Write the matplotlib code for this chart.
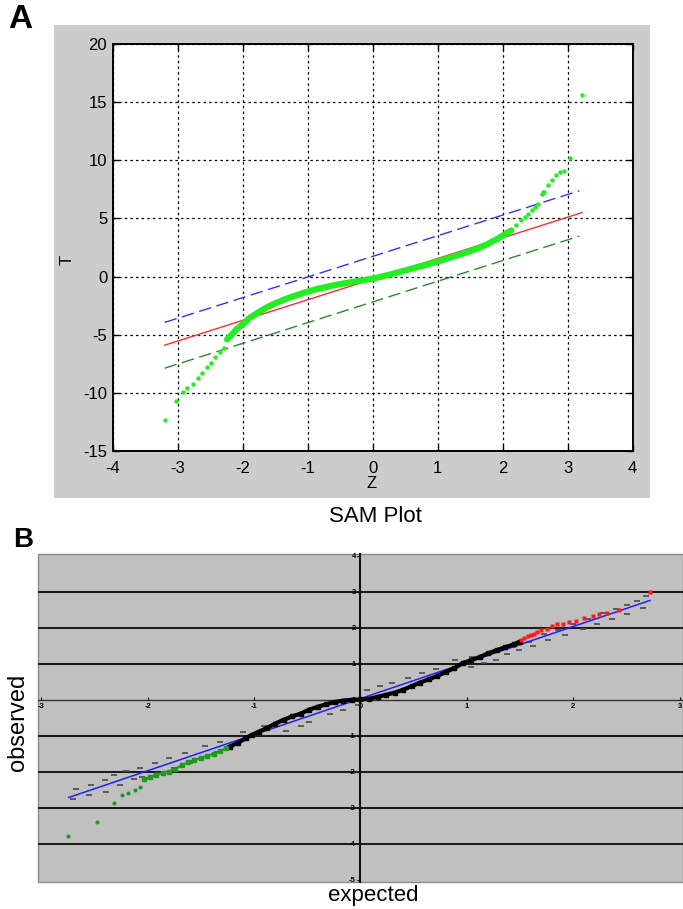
import matplotlib
matplotlib.use("Agg")
import matplotlib.pyplot as plt
from matplotlib.patches import Rectangle

plt.rcParams['font.family'] = ['Liberation Sans', 'DejaVu Sans']
plt.rcParams['axes.unicode_minus'] = False

# ---------------- Panel A data (SAM plot) ----------------
a_xticks = [-4, -3, -2, -1, 0, 1, 2, 3, 4]
a_yticks = [-15, -10, -5, 0, 5, 10, 15, 20]

# dense central band of observed points
sam_band_z = [-2.24, -2.16, -2.09, -2.0, -1.88, -1.75, -1.63, -1.5, -1.27, -1.05,
              -0.85, -0.6, -0.34, 0.0, 0.3, 0.535, 0.8, 1.05, 1.3, 1.56, 1.75,
              1.92, 2.05, 2.13]
sam_band_t = [-5.4, -4.95, -4.5, -4.1, -3.5, -3.05, -2.65, -2.3, -1.78, -1.38,
              -1.06, -0.75, -0.49, -0.18, 0.22, 0.58, 0.98, 1.38, 1.82, 2.3, 2.75,
              3.25, 3.7, 3.97]
# sparse tail points
sam_tail_z = [-3.19, -3.02, -2.92, -2.85, -2.76, -2.68, -2.62, -2.55, -2.48, -2.42,
              -2.35, -2.29, 2.20, 2.28, 2.34, 2.39, 2.45, 2.50, 2.54, 2.60, 2.62,
              2.64, 2.70, 2.76, 2.82, 2.88, 2.95, 3.03, 3.22]
sam_tail_t = [-12.3, -10.7, -9.9, -9.6, -9.25, -8.7, -8.3, -7.8, -7.4, -6.95,
              -6.5, -6.1, 4.4, 4.83, 5.1, 5.4, 5.7, 6.0, 6.27, 7.1, 7.27,
              7.3, 7.9, 8.3, 8.7, 9.0, 9.1, 10.2, 15.6]

red_z = [-3.2, 3.22]
red_t = [-5.9, 5.5]
blue_z = [-3.2, 3.18]
blue_t = [-3.94, 7.38]
dgreen_z = [-3.2, 3.18]
dgreen_t = [-7.88, 3.48]

# ---------------- Panel B data (observed vs expected) ----------------
b_xticks = [-3, -2, -1, 0, 1, 2, 3]
b_yticks = [-5, -4, -3, -2, -1, 0, 1, 2, 3, 4]
b_grid_y = [-4, -3, -2, -1, 1, 2, 3]

black_x = [-1.23, -1.15, -1.08, -1.02, -0.95, -0.88, -0.80, -0.72, -0.64, -0.56,
           -0.48, -0.40, -0.32, -0.24, -0.16, -0.08, 0.0, 0.08, 0.16, 0.24,
           0.32, 0.40, 0.48, 0.56, 0.64, 0.72, 0.80, 0.88, 0.96, 1.04,
           1.12, 1.20, 1.28, 1.36, 1.44, 1.50]
black_y = [-1.30, -1.19, -1.07, -0.97, -0.88, -0.78, -0.66, -0.55, -0.46, -0.38,
           -0.27, -0.19, -0.12, -0.06, -0.02, 0.00, 0.01, 0.03, 0.08, 0.14,
           0.20, 0.28, 0.38, 0.48, 0.57, 0.66, 0.77, 0.88, 1.02, 1.10,
           1.19, 1.29, 1.38, 1.46, 1.54, 1.62]

red_bx = [1.51, 1.54, 1.57, 1.60, 1.63, 1.66, 1.70, 1.75, 1.80, 1.85, 1.90, 1.96,
          2.02, 2.10, 2.18, 2.24, 2.32, 2.43, 2.72]
red_by = [1.67, 1.72, 1.76, 1.80, 1.84, 1.88, 1.93, 1.98, 2.05, 2.10, 2.12, 2.16,
          2.19, 2.26, 2.33, 2.38, 2.42, 2.50, 3.00]

green_bx = [-1.26, -1.32, -1.38, -1.44, -1.50, -1.56, -1.62, -1.68, -1.74, -1.80,
            -1.86, -1.92, -1.98, -2.03]
green_by = [-1.35, -1.42, -1.49, -1.56, -1.61, -1.67, -1.73, -1.82, -1.92, -1.99,
            -2.04, -2.08, -2.15, -2.20]
green_tail_x = [-2.07, -2.12, -2.18, -2.24, -2.32, -2.48, -2.745]
green_tail_y = [-2.42, -2.50, -2.59, -2.64, -2.87, -3.38, -3.77]

bline_x = [-2.74, 2.72]
bline_y = [-2.71, 2.76]

upper_x = [-2.67, -2.53, -2.40, -2.32, -2.20, -2.07, -1.93, -1.80, -1.65, -1.46,
           -1.32, -1.10, -0.91, 0.06, 0.18, 0.30, 0.45, 0.58, 0.71, 0.89, 1.05,
           1.23, 1.43, 1.58, 1.72, 1.86, 2.0, 2.14, 2.28, 2.40, 2.50, 2.60, 2.68]
upper_y = [-2.48, -2.36, -2.22, -2.08, -1.98, -1.90, -1.76, -1.62, -1.48, -1.28,
           -1.16, -0.88, -0.72, 0.28, 0.38, 0.48, 0.62, 0.74, 0.86, 1.10, 1.20,
           1.30, 1.48, 1.62, 1.82, 1.95, 2.10, 2.24, 2.40, 2.52, 2.62, 2.74, 2.87]
lower_x = [-2.70, -2.55, -2.39, -2.26, -2.13, -2.05, -1.90, -1.75, -1.60, -1.48,
           -1.35, -1.23, -0.70, -0.56, -0.48, -0.29, -0.16, -0.02, 1.04, 1.16,
           1.27, 1.38, 1.49, 1.62, 1.76, 1.92, 2.09, 2.22, 2.36, 2.50, 2.65]
lower_y = [-2.76, -2.65, -2.55, -2.36, -2.20, -2.13, -2.02, -1.90, -1.76, -1.58,
           -1.45, -1.34, -0.86, -0.72, -0.62, -0.40, -0.28, -0.15, 0.92, 1.02,
           1.12, 1.26, 1.38, 1.50, 1.66, 1.80, 1.98, 2.10, 2.24, 2.38, 2.55]

# ---------------- Figure ----------------
W, H = 683, 909
fig = plt.figure(figsize=(W / 100, H / 100), dpi=100)


def fx(px):
    return px / W


def fy(py):
    return 1 - py / H


# gray background of panel A
fig.patches.append(Rectangle((fx(54), fy(498)), fx(650) - fx(54), fy(25) - fy(498),
                             transform=fig.transFigure, facecolor='#cccccc',
                             edgecolor='none', zorder=-10))

axA = fig.add_axes([fx(112.7), fy(451), fx(632.7) - fx(112.7), fy(44) - fy(451)])
axA.set_zorder(2)
axA.set_facecolor('white')
axA.set_xlim(-4, 4)
axA.set_ylim(-15, 20)
axA.set_xticks(a_xticks)
axA.set_yticks(a_yticks)
axA.set_xticklabels([str(v) for v in a_xticks])
axA.set_yticklabels([str(v) for v in a_yticks])
axA.tick_params(direction='in', length=4, width=1, top=True, right=True,
                labelsize=12, colors='black')
axA.tick_params(axis='x', pad=7)
axA.tick_params(axis='y', pad=4)
axA.grid(True, color='black', linestyle=(0, (2, 2.5)), linewidth=0.9)
axA.set_axisbelow(True)
for s in axA.spines.values():
    s.set_linewidth(1.4)
    s.set_color('black')

axA.plot(blue_z, blue_t, color='#3030ff', lw=1.0, dashes=(9, 4), zorder=3)
axA.plot(dgreen_z, dgreen_t, color='#2a8a2a', lw=1.0, dashes=(9, 4), zorder=3)
axA.plot(red_z, red_t, color='#ff2a2a', lw=1.0, zorder=3)
axA.plot(sam_band_z, sam_band_t, color='#22ee22', lw=4.5, solid_capstyle='round',
         zorder=4)
axA.plot(sam_tail_z, sam_tail_t, 'o', color='#22ee22', ms=3.2, mec='none', zorder=4)

fig.text(fx(67), fy(260), 'T', rotation=90, ha='center', va='center', fontsize=12)
fig.text(fx(372), fy(484), 'Z', ha='center', va='center', fontsize=12)
fig.text(fx(375), fy(506), 'SAM Plot', ha='center', va='top', fontsize=16)
fig.text(fx(8), fy(28), 'A', ha='left', va='baseline', fontsize=24, fontweight='bold')
fig.text(fx(13), fy(547), 'B', ha='left', va='baseline', fontsize=20, fontweight='bold')

# ---------------- Panel B ----------------
axB = fig.add_axes([fx(38), fy(881.7), fx(683) - fx(38), fy(554) - fy(881.7)])
axB.set_facecolor('#c0c0c0')
axB.set_xlim(-3.03, 3.03)
axB.set_ylim(-5.05, 4.05)
for y in b_grid_y:
    axB.axhline(y, color='#1e1e1e', lw=1.5, zorder=1)
axB.spines['top'].set_visible(False)
axB.spines['right'].set_visible(False)
axB.spines['left'].set_position(('data', 0))
axB.spines['bottom'].set_position(('data', 0))
axB.spines['left'].set_linewidth(1.5)
axB.spines['left'].set_color('#111111')
axB.spines['bottom'].set_linewidth(1.0)
axB.spines['bottom'].set_color('#333333')
axB.add_patch(Rectangle((0, 0), 1, 1, transform=axB.transAxes, fill=False,
                        edgecolor='#8c8c8c', lw=1.0, zorder=0.5, clip_on=False))
axB.set_xticks(b_xticks)
axB.set_yticks(b_yticks)
axB.set_xticklabels([str(v) for v in b_xticks], fontsize=5.5, fontweight='bold')
axB.set_yticklabels([str(v) for v in b_yticks], fontsize=5.5, fontweight='bold')
axB.tick_params(axis='x', direction='in', length=2.5, width=0.8, pad=2)
axB.tick_params(axis='y', direction='out', length=2.5, width=0.8, pad=1)

axB.plot(upper_x, upper_y, '_', color='#4a4a4a', ms=5, mew=1.2, zorder=2)
axB.plot(lower_x, lower_y, '_', color='#4a4a4a', ms=5, mew=1.2, zorder=2)
axB.plot(bline_x, bline_y, color='#2020ff', lw=1.1, zorder=3)
axB.plot(black_x, black_y, '-s', color='black', lw=3.0, ms=2.8, zorder=4)
axB.plot(green_bx, green_by, '-s', color='#1f9a1f', lw=1.6, ms=2.2, zorder=4)
axB.plot(green_tail_x, green_tail_y, 'o', color='#1f9a1f', ms=3, mec='none', zorder=4)
axB.plot(red_bx, red_by, 's', color='#ff1a1a', ms=2.4, mec='none', zorder=4)

fig.text(fx(18), fy(722), 'observed', rotation=90, ha='center', va='center', fontsize=17)
fig.text(fx(373), fy(896), 'expected', ha='center', va='center', fontsize=16)

fig.savefig('out.png', dpi=100)
